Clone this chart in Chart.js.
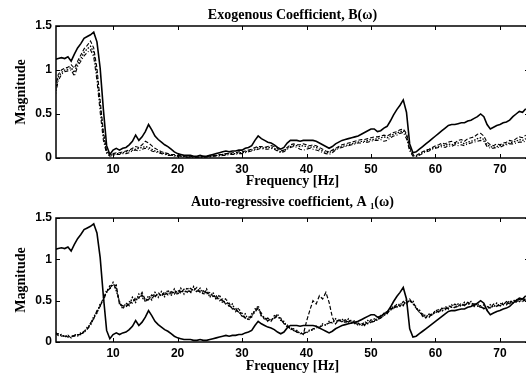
<!DOCTYPE html>
<html>
<head>
<meta charset="utf-8">
<script src="https://cdn.jsdelivr.net/npm/chart.js@4"></script>
<style>
  html, body { margin: 0; padding: 0; background: #fff; overflow: hidden; }
  .wrap { position: absolute; left: 0; width: 530px; }
  #w1 { top: 0; height: 190px; }
  #w2 { top: 190px; height: 185px; }
</style>
</head>
<body>
<div class="wrap" id="w1"><canvas id="exoChart" width="530" height="190"></canvas></div>
<div class="wrap" id="w2"><canvas id="arChart" width="530" height="185"></canvas></div>
<script>
// frequency grid [Hz], 0.5 Hz steps
const freq = [
    1, 1.5, 2, 2.5, 3, 3.5, 4, 4.5, 5, 5.5,
    6, 6.5, 7, 7.5, 8, 8.5, 9, 9.5, 10, 10.5,
    11, 11.5, 12, 12.5, 13, 13.5, 14, 14.5, 15, 15.5,
    16, 16.5, 17, 17.5, 18, 18.5, 19, 19.5, 20, 20.5,
    21, 21.5, 22, 22.5, 23, 23.5, 24, 24.5, 25, 25.5,
    26, 26.5, 27, 27.5, 28, 28.5, 29, 29.5, 30, 30.5,
    31, 31.5, 32, 32.5, 33, 33.5, 34, 34.5, 35, 35.5,
    36, 36.5, 37, 37.5, 38, 38.5, 39, 39.5, 40, 40.5,
    41, 41.5, 42, 42.5, 43, 43.5, 44, 44.5, 45, 45.5,
    46, 46.5, 47, 47.5, 48, 48.5, 49, 49.5, 50, 50.5,
    51, 51.5, 52, 52.5, 53, 53.5, 54, 54.5, 55, 55.5,
    56, 56.5, 57, 57.5, 58, 58.5, 59, 59.5, 60, 60.5,
    61, 61.5, 62, 62.5, 63, 63.5, 64, 64.5, 65, 65.5,
    66, 66.5, 67, 67.5, 68, 68.5, 69, 69.5, 70, 70.5,
    71, 71.5, 72, 72.5, 73, 73.5, 74
];

// solid reference curve (same in both panels)
const solidRef = [
    1.12, 1.13, 1.14, 1.13, 1.15, 1.10, 1.18, 1.25, 1.30, 1.36,
    1.38, 1.40, 1.43, 1.32, 1.02, 0.55, 0.14, 0.04, 0.09, 0.11,
    0.09, 0.11, 0.12, 0.15, 0.19, 0.26, 0.20, 0.24, 0.30, 0.38,
    0.32, 0.25, 0.21, 0.18, 0.15, 0.13, 0.10, 0.07, 0.05, 0.04,
    0.03, 0.03, 0.03, 0.02, 0.02, 0.03, 0.02, 0.02, 0.03, 0.04,
    0.05, 0.06, 0.07, 0.08, 0.07, 0.08, 0.08, 0.09, 0.09, 0.11,
    0.12, 0.14, 0.20, 0.25, 0.22, 0.20, 0.18, 0.17, 0.15, 0.12,
    0.10, 0.12, 0.17, 0.20, 0.20, 0.20, 0.19, 0.20, 0.20, 0.20,
    0.20, 0.19, 0.17, 0.15, 0.13, 0.11, 0.13, 0.16, 0.18, 0.20,
    0.21, 0.22, 0.23, 0.24, 0.25, 0.27, 0.29, 0.31, 0.33, 0.33,
    0.30, 0.31, 0.34, 0.36, 0.42, 0.49, 0.55, 0.60, 0.66, 0.52,
    0.16, 0.06, 0.07, 0.10, 0.13, 0.16, 0.19, 0.22, 0.25, 0.28,
    0.31, 0.34, 0.37, 0.38, 0.38, 0.39, 0.40, 0.40, 0.42, 0.43,
    0.45, 0.47, 0.50, 0.47, 0.38, 0.33, 0.35, 0.37, 0.38, 0.40,
    0.41, 0.43, 0.47, 0.50, 0.53, 0.52, 0.56
];

// exogenous coefficient estimates B(w)
const exoB1 = [
    0.80, 0.95, 1.00, 1.02, 1.03, 1.06, 1.02, 1.10, 1.17, 1.24,
    1.28, 1.33, 1.25, 1.02, 0.65, 0.30, 0.08, 0.04, 0.05, 0.06,
    0.06, 0.07, 0.08, 0.09, 0.11, 0.13, 0.12, 0.15, 0.19, 0.17,
    0.14, 0.11, 0.09, 0.07, 0.06, 0.05, 0.04, 0.04, 0.03, 0.03,
    0.02, 0.02, 0.02, 0.01, 0.01, 0.01, 0.02, 0.02, 0.02, 0.03,
    0.03, 0.04, 0.04, 0.05, 0.05, 0.06, 0.06, 0.07, 0.07, 0.08,
    0.09, 0.10, 0.12, 0.13, 0.13, 0.12, 0.13, 0.14, 0.13, 0.11,
    0.08, 0.09, 0.12, 0.15, 0.16, 0.15, 0.15, 0.16, 0.15, 0.14,
    0.15, 0.14, 0.12, 0.10, 0.08, 0.07, 0.09, 0.11, 0.13, 0.15,
    0.16, 0.17, 0.18, 0.19, 0.20, 0.21, 0.21, 0.22, 0.23, 0.24,
    0.24, 0.25, 0.26, 0.25, 0.27, 0.29, 0.30, 0.32, 0.33, 0.28,
    0.12, 0.04, 0.03, 0.05, 0.07, 0.09, 0.10, 0.12, 0.14, 0.15,
    0.17, 0.16, 0.18, 0.19, 0.17, 0.20, 0.21, 0.19, 0.22, 0.23,
    0.24, 0.27, 0.28, 0.25, 0.18, 0.15, 0.14, 0.16, 0.15, 0.17,
    0.18, 0.20, 0.19, 0.22, 0.24, 0.23, 0.26
];
const exoB2 = [
    0.75, 0.92, 0.97, 1.00, 1.01, 1.03, 0.97, 1.07, 1.13, 1.20,
    1.24, 1.27, 1.20, 0.95, 0.60, 0.26, 0.07, 0.03, 0.04, 0.05,
    0.05, 0.06, 0.07, 0.08, 0.09, 0.10, 0.11, 0.12, 0.13, 0.12,
    0.10, 0.08, 0.07, 0.06, 0.05, 0.04, 0.03, 0.03, 0.02, 0.02,
    0.02, 0.01, 0.01, 0.01, 0.01, 0.01, 0.01, 0.02, 0.02, 0.02,
    0.03, 0.03, 0.04, 0.04, 0.05, 0.05, 0.05, 0.06, 0.06, 0.07,
    0.08, 0.09, 0.10, 0.12, 0.12, 0.11, 0.12, 0.12, 0.11, 0.09,
    0.07, 0.08, 0.11, 0.13, 0.14, 0.14, 0.13, 0.14, 0.13, 0.12,
    0.13, 0.12, 0.10, 0.08, 0.06, 0.06, 0.08, 0.10, 0.12, 0.13,
    0.14, 0.15, 0.16, 0.17, 0.18, 0.19, 0.19, 0.20, 0.21, 0.21,
    0.22, 0.23, 0.24, 0.23, 0.25, 0.27, 0.28, 0.30, 0.31, 0.26,
    0.10, 0.03, 0.02, 0.04, 0.06, 0.08, 0.09, 0.11, 0.12, 0.13,
    0.15, 0.14, 0.16, 0.15, 0.16, 0.17, 0.18, 0.16, 0.18, 0.19,
    0.20, 0.22, 0.23, 0.21, 0.15, 0.13, 0.12, 0.13, 0.14, 0.15,
    0.16, 0.17, 0.18, 0.19, 0.21, 0.20, 0.22
];
const exoB3 = [
    0.70, 0.88, 0.95, 0.98, 0.99, 1.00, 0.93, 1.04, 1.10, 1.16,
    1.20, 1.23, 1.15, 0.88, 0.52, 0.20, 0.05, 0.02, 0.03, 0.04,
    0.04, 0.05, 0.05, 0.06, 0.08, 0.09, 0.08, 0.10, 0.11, 0.10,
    0.08, 0.07, 0.06, 0.05, 0.04, 0.03, 0.03, 0.02, 0.02, 0.02,
    0.01, 0.01, 0.01, 0.01, 0.01, 0.01, 0.01, 0.01, 0.01, 0.02,
    0.02, 0.02, 0.03, 0.03, 0.04, 0.04, 0.04, 0.05, 0.05, 0.06,
    0.07, 0.08, 0.09, 0.10, 0.11, 0.10, 0.10, 0.11, 0.10, 0.08,
    0.06, 0.07, 0.10, 0.12, 0.13, 0.12, 0.10, 0.09, 0.10, 0.11,
    0.10, 0.09, 0.08, 0.06, 0.05, 0.04, 0.06, 0.09, 0.11, 0.12,
    0.13, 0.14, 0.15, 0.16, 0.17, 0.17, 0.18, 0.18, 0.19, 0.20,
    0.20, 0.21, 0.19, 0.20, 0.23, 0.25, 0.26, 0.28, 0.29, 0.22,
    0.08, 0.02, 0.02, 0.03, 0.05, 0.07, 0.08, 0.10, 0.11, 0.12,
    0.13, 0.12, 0.14, 0.13, 0.15, 0.14, 0.15, 0.14, 0.16, 0.17,
    0.18, 0.19, 0.20, 0.19, 0.13, 0.11, 0.11, 0.12, 0.12, 0.14,
    0.15, 0.16, 0.16, 0.17, 0.18, 0.18, 0.19
];

// auto-regressive coefficient estimates A1(w)
const arA1 = [
    0.11, 0.08, 0.09, 0.06, 0.08, 0.05, 0.09, 0.08, 0.11, 0.12,
    0.18, 0.21, 0.31, 0.35, 0.46, 0.50, 0.63, 0.64, 0.72, 0.62,
    0.49, 0.40, 0.47, 0.44, 0.54, 0.48, 0.58, 0.54, 0.49, 0.56,
    0.51, 0.60, 0.54, 0.61, 0.55, 0.63, 0.56, 0.64, 0.57, 0.65,
    0.58, 0.66, 0.59, 0.67, 0.60, 0.65, 0.57, 0.64, 0.54, 0.60,
    0.51, 0.57, 0.47, 0.53, 0.42, 0.46, 0.37, 0.41, 0.30, 0.34,
    0.26, 0.34, 0.37, 0.44, 0.31, 0.30, 0.25, 0.28, 0.28, 0.34,
    0.26, 0.25, 0.18, 0.18, 0.14, 0.14, 0.10, 0.11, 0.11, 0.15,
    0.14, 0.19, 0.17, 0.22, 0.20, 0.25, 0.23, 0.28, 0.25, 0.28,
    0.23, 0.28, 0.23, 0.26, 0.20, 0.23, 0.20, 0.26, 0.23, 0.28,
    0.26, 0.32, 0.31, 0.38, 0.38, 0.44, 0.42, 0.47, 0.44, 0.51,
    0.48, 0.50, 0.40, 0.39, 0.31, 0.33, 0.30, 0.35, 0.35, 0.40,
    0.37, 0.43, 0.40, 0.45, 0.41, 0.46, 0.43, 0.48, 0.45, 0.49,
    0.43, 0.47, 0.41, 0.45, 0.39, 0.45, 0.42, 0.47, 0.43, 0.48,
    0.45, 0.50, 0.47, 0.52, 0.49, 0.53, 0.50
];
const arA2 = [
    0.09, 0.10, 0.07, 0.08, 0.06, 0.07, 0.07, 0.09, 0.09, 0.13,
    0.15, 0.23, 0.28, 0.38, 0.43, 0.54, 0.60, 0.68, 0.67, 0.69,
    0.45, 0.44, 0.42, 0.49, 0.47, 0.54, 0.53, 0.60, 0.51, 0.51,
    0.57, 0.54, 0.60, 0.55, 0.61, 0.57, 0.61, 0.58, 0.63, 0.59,
    0.64, 0.60, 0.65, 0.62, 0.66, 0.60, 0.62, 0.58, 0.60, 0.55,
    0.56, 0.50, 0.52, 0.45, 0.47, 0.40, 0.41, 0.35, 0.35, 0.29,
    0.30, 0.30, 0.40, 0.40, 0.35, 0.27, 0.29, 0.25, 0.32, 0.30,
    0.29, 0.22, 0.21, 0.15, 0.16, 0.12, 0.12, 0.09, 0.25, 0.38,
    0.50, 0.46, 0.56, 0.52, 0.60, 0.48, 0.30, 0.22, 0.27, 0.24,
    0.27, 0.24, 0.27, 0.22, 0.23, 0.19, 0.25, 0.22, 0.27, 0.25,
    0.30, 0.29, 0.35, 0.34, 0.41, 0.40, 0.46, 0.43, 0.49, 0.46,
    0.52, 0.46, 0.43, 0.35, 0.34, 0.29, 0.34, 0.32, 0.39, 0.36,
    0.41, 0.39, 0.44, 0.42, 0.46, 0.43, 0.47, 0.44, 0.48, 0.46,
    0.46, 0.43, 0.44, 0.40, 0.43, 0.41, 0.46, 0.43, 0.47, 0.45,
    0.49, 0.46, 0.51, 0.48, 0.52, 0.49, 0.53
];
const arA3 = [
    0.12, 0.09, 0.08, 0.07, 0.07, 0.06, 0.08, 0.07, 0.10, 0.11,
    0.16, 0.20, 0.29, 0.36, 0.44, 0.51, 0.60, 0.65, 0.69, 0.65,
    0.47, 0.42, 0.43, 0.46, 0.49, 0.51, 0.54, 0.57, 0.49, 0.52,
    0.54, 0.56, 0.57, 0.57, 0.58, 0.59, 0.59, 0.60, 0.60, 0.61,
    0.61, 0.62, 0.61, 0.63, 0.62, 0.61, 0.59, 0.60, 0.57, 0.56,
    0.54, 0.52, 0.50, 0.47, 0.44, 0.41, 0.39, 0.36, 0.32, 0.29,
    0.27, 0.31, 0.36, 0.41, 0.32, 0.28, 0.26, 0.26, 0.29, 0.31,
    0.27, 0.23, 0.19, 0.16, 0.14, 0.12, 0.10, 0.10, 0.12, 0.13,
    0.16, 0.17, 0.18, 0.20, 0.21, 0.23, 0.24, 0.25, 0.26, 0.25,
    0.24, 0.25, 0.24, 0.23, 0.21, 0.21, 0.21, 0.23, 0.24, 0.25,
    0.27, 0.29, 0.32, 0.35, 0.39, 0.41, 0.43, 0.44, 0.45, 0.48,
    0.50, 0.47, 0.41, 0.36, 0.32, 0.30, 0.31, 0.33, 0.36, 0.37,
    0.38, 0.40, 0.41, 0.42, 0.42, 0.43, 0.44, 0.45, 0.46, 0.45,
    0.44, 0.44, 0.42, 0.41, 0.40, 0.42, 0.43, 0.44, 0.44, 0.45,
    0.46, 0.47, 0.48, 0.49, 0.50, 0.49, 0.51
];

const magTicks = [0, 0.5, 1, 1.5];
const freqTicks = [10, 20, 30, 40, 50, 60, 70];

const serif = "'Liberation Serif', 'Times New Roman', serif";
const sans = "'Liberation Sans', Arial, sans-serif";

// MATLAB-ish box with inward ticks
const boxTicks = {
    id: "boxTicks",
    afterDatasetsDraw(chart) {
        const { ctx, chartArea: a, scales: { x, y } } = chart;
        ctx.save();
        ctx.strokeStyle = "#000";
        ctx.lineWidth = 1;
        ctx.beginPath();
        x.ticks.forEach(t => {
            const px = Math.round(x.getPixelForValue(t.value)) + 0.5;
            ctx.moveTo(px, a.bottom); ctx.lineTo(px, a.bottom - 4);
            ctx.moveTo(px, a.top); ctx.lineTo(px, a.top + 4);
        });
        y.ticks.forEach(t => {
            const py = Math.round(y.getPixelForValue(t.value)) + 0.5;
            ctx.moveTo(a.left, py); ctx.lineTo(a.left + 4, py);
            ctx.moveTo(a.right, py); ctx.lineTo(a.right - 4, py);
        });
        ctx.stroke();
        ctx.lineWidth = 1.5;
        ctx.strokeRect(a.left, a.top, a.right - a.left, a.bottom - a.top);
        ctx.restore();
    }
};

function line(data, dash, width) {
    return {
        data: data,
        borderColor: "#000",
        borderWidth: width,
        borderDash: dash,
        pointRadius: 0,
        tension: 0,
        fill: false
    };
}

function makeChart(id, title, titlePad, series, xHeight) {
    const ctx = document.getElementById(id).getContext("2d");
    return new Chart(ctx, {
        type: "line",
        data: {
            labels: freq,
            datasets: series
        },
        options: {
            responsive: false,
            animation: false,
            events: [],
            layout: { padding: { left: 0, right: 1, top: 0, bottom: 0 } },
            plugins: {
                legend: { display: false },
                tooltip: { enabled: false },
                title: {
                    display: true,
                    text: title,
                    fullSize: false,
                    color: "#000",
                    font: { family: serif, size: 14, weight: "bold", lineHeight: 1.2 },
                    padding: titlePad
                }
            },
            scales: {
                x: {
                    type: "linear",
                    min: 1.15,
                    max: 74.5,
                    afterFit: s => { s.height = xHeight; },
                    afterBuildTicks: s => { s.ticks = freqTicks.map(v => ({ value: v })); },
                    grid: { display: false, drawTicks: false },
                    border: { display: false },
                    ticks: {
                        color: "#000",
                        padding: 4,
                        maxRotation: 0,
                        font: { family: sans, size: 12, weight: "bold" }
                    },
                    title: {
                        display: true,
                        text: "Frequency [Hz]",
                        color: "#000",
                        font: { family: serif, size: 14, weight: "bold", lineHeight: 1.2 },
                        padding: { top: 0, bottom: 0 }
                    }
                },
                y: {
                    min: 0,
                    max: 1.5,
                    afterFit: s => { s.width = 56; },
                    afterBuildTicks: s => { s.ticks = magTicks.map(v => ({ value: v })); },
                    grid: { display: false, drawTicks: false },
                    border: { display: false },
                    ticks: {
                        color: "#000",
                        padding: 4,
                        callback: v => String(v),
                        font: { family: sans, size: 12, weight: "bold" }
                    },
                    title: {
                        display: true,
                        text: "Magnitude",
                        color: "#000",
                        font: { family: serif, size: 14, weight: "bold", lineHeight: 1.2 },
                        padding: { top: 13, bottom: 0 }
                    }
                }
            }
        },
        plugins: [boxTicks]
    });
}

makeChart("exoChart", "Exogenous Coefficient, B(\u03c9)", { top: 7, bottom: 2.2 }, [
    line(exoB3, [4, 2, 1, 2], 1.1),
    line(exoB2, [1.5, 1.5], 1.3),
    line(exoB1, [4, 2], 1.1),
    line(solidRef, [], 1.6)
], 32);

makeChart("arChart", "Auto-regressive coefficient, A \u2081(\u03c9)", { top: 4, bottom: 7.2 }, [
    line(arA3, [4, 2, 1, 2], 1.2),
    line(arA2, [4, 2], 1.2),
    line(arA1, [1.5, 1.5], 1.4),
    line(solidRef, [], 1.6)
], 33);
</script>
</body>
</html>
